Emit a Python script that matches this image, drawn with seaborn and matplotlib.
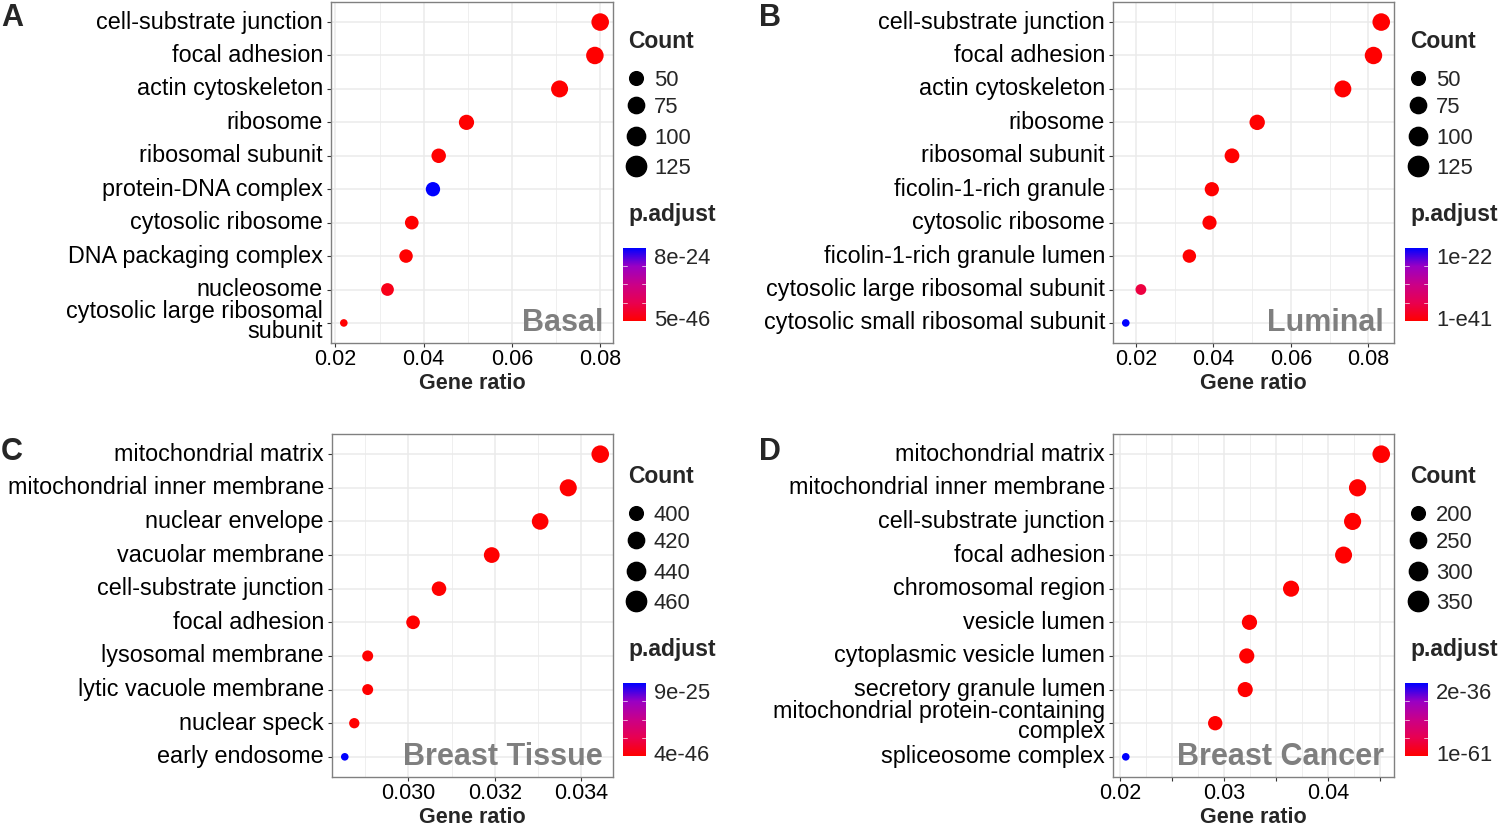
import numpy as np
import pandas as pd
import seaborn as sns
import matplotlib.pyplot as plt
from matplotlib.colors import LinearSegmentedColormap, Normalize, PowerNorm
from matplotlib.cm import ScalarMappable
from matplotlib.lines import Line2D
from matplotlib.transforms import ScaledTranslation

# ---- data ----
terms_a = ["cell-substrate junction", "focal adhesion", "actin cytoskeleton", "ribosome",
           "ribosomal subunit", "protein-DNA complex", "cytosolic ribosome",
           "DNA packaging complex", "nucleosome", "cytosolic large ribosomal\nsubunit"]
ratio_a = [0.0800, 0.0788, 0.0708, 0.0497, 0.0434, 0.0421, 0.0373, 0.0360, 0.0318, 0.0219]
count_a = [135, 133, 120, 84, 73, 71, 63, 61, 54, 37]
padj_a = [5e-46, 2e-45, 1e-40, 3e-38, 1e-33, 8e-24, 4e-33, 3e-30, 6e-25, 2e-27]

terms_b = ["cell-substrate junction", "focal adhesion", "actin cytoskeleton", "ribosome",
           "ribosomal subunit", "ficolin-1-rich granule", "cytosolic ribosome",
           "ficolin-1-rich granule lumen", "cytosolic large ribosomal subunit",
           "cytosolic small ribosomal subunit"]
ratio_b = [0.0833, 0.0813, 0.0734, 0.0513, 0.0448, 0.0396, 0.0390, 0.0338, 0.0213, 0.0174]
count_b = [137, 133, 120, 84, 73, 65, 64, 55, 35, 29]
padj_b = [1e-41, 3e-41, 2e-37, 5e-35, 1e-31, 4e-30, 2e-29, 6e-28, 2e-23, 1e-22]

terms_c = ["mitochondrial matrix", "mitochondrial inner membrane", "nuclear envelope",
           "vacuolar membrane", "cell-substrate junction", "focal adhesion",
           "lysosomal membrane", "lytic vacuole membrane", "nuclear speck", "early endosome"]
ratio_c = [0.03444, 0.03370, 0.03305, 0.03193, 0.03071, 0.03011, 0.02906, 0.02906, 0.02875, 0.02853]
count_c = [465, 455, 446, 431, 415, 406, 390, 390, 388, 385]
padj_c = [4e-46, 1e-44, 3e-43, 2e-40, 5e-37, 1e-35, 2e-33, 4e-33, 6e-30, 9e-25]

terms_d = ["mitochondrial matrix", "mitochondrial inner membrane", "cell-substrate junction",
           "focal adhesion", "chromosomal region", "vesicle lumen", "cytoplasmic vesicle lumen",
           "secretory granule lumen", "mitochondrial protein-containing\ncomplex",
           "spliceosome complex"]
ratio_d = [0.04513, 0.04285, 0.04237, 0.04150, 0.03644, 0.03243, 0.03217, 0.03202, 0.02913, 0.02051]
count_d = [361, 343, 339, 332, 292, 259, 257, 256, 233, 164]
padj_d = [1e-61, 4e-58, 1e-57, 3e-56, 2e-50, 5e-48, 1e-47, 3e-47, 6e-44, 2e-36]

# axis ticks / legend text
ticks_a = [0.02, 0.04, 0.06, 0.08]
tick_labels_a = ["0.02", "0.04", "0.06", "0.08"]
minor_a = [0.03, 0.05, 0.07]
ticks_c = [0.030, 0.032, 0.034]
tick_labels_c = ["0.030", "0.032", "0.034"]
minor_c = [0.029, 0.031, 0.033]
ticks_d = [0.02, 0.025, 0.03, 0.035, 0.04, 0.045]
tick_labels_d = ["0.02", "", "0.03", "", "0.04", ""]
minor_d = [0.0225, 0.0275, 0.0325, 0.0375, 0.0425]

breaks_a = [50, 75, 100, 125]
breaks_c = [400, 420, 440, 460]
breaks_d = [200, 250, 300, 350]
plabels_a = ["8e-24", "5e-46"]
plabels_b = ["1e-22", "1-e41"]
plabels_c = ["9e-25", "4e-46"]
plabels_d = ["2e-36", "1e-61"]

sns.set_style("white")
plt.rcParams['font.family'] = ['Liberation Sans', 'DejaVu Sans']

W, H = 1500, 826
fig = plt.figure(figsize=(W / 100, H / 100), dpi=100)
fig.patch.set_facecolor("white")


def rect(l, t, r, b):
    return [l / W, 1 - b / H, (r - l) / W, (b - t) / H]


# red -> blue interpolated through Lab like ggplot
cmap = LinearSegmentedColormap.from_list(
    "padj", ["#FF0000", "#E80050", "#CA0088", "#9A00C3", "#0000FF"])

key_diam = [13.7, 16.3, 18.3, 20.3]   # px
key_y = [78, 105, 136, 166]

panels = [
    dict(letter="A", lpos=(12, 18), name="Basal", terms=terms_a, ratio=ratio_a, count=count_a,
         padj=padj_a, ticks=ticks_a, tlabels=tick_labels_a, minor=minor_a, breaks=breaks_a,
         plab=plabels_a, box=(331, 2, 613, 343), cx=636, y0=0),
    dict(letter="B", lpos=(770, 18), name="Luminal", terms=terms_b, ratio=ratio_b, count=count_b,
         padj=padj_b, ticks=ticks_a, tlabels=tick_labels_a, minor=minor_a, breaks=breaks_a,
         plab=plabels_b, box=(1113, 2, 1394, 343), cx=1418, y0=0),
    dict(letter="C", lpos=(12, 452), name="Breast Tissue", terms=terms_c, ratio=ratio_c,
         count=count_c, padj=padj_c, ticks=ticks_c, tlabels=tick_labels_c, minor=minor_c,
         breaks=breaks_c, plab=plabels_c, box=(332, 434, 613, 777), cx=636, y0=435),
    dict(letter="D", lpos=(770, 452), name="Breast Cancer", terms=terms_d, ratio=ratio_d,
         count=count_d, padj=padj_d, ticks=ticks_d, tlabels=tick_labels_d, minor=minor_d,
         breaks=breaks_d, plab=plabels_d, box=(1113, 434, 1394, 777), cx=1418, y0=435),
]

shift_up = ScaledTranslation(0, 2.5 / 100, fig.dpi_scale_trans)

for p in panels:
    ax = fig.add_axes(rect(*p["box"]))
    df = pd.DataFrame({"term": p["terms"], "ratio": p["ratio"],
                       "Count": p["count"], "padj": p["padj"]})
    pnorm = Normalize(min(p["padj"]), max(p["padj"]))
    sns.scatterplot(data=df, x="ratio", y="term", hue="padj", palette=cmap, hue_norm=pnorm,
                    size="Count", sizes=(30, 160),
                    size_norm=PowerNorm(0.5, vmin=min(p["count"]), vmax=max(p["count"])),
                    linewidth=0, legend=False, ax=ax, zorder=3)
    lo, hi = min(p["ratio"]), max(p["ratio"])
    pad = 0.05 * (hi - lo)
    ax.set_xlim(lo - pad, hi + pad)
    ax.set_ylim(len(p["terms"]) - 0.4, -0.6)
    ax.set_xticks(p["ticks"])
    ax.set_xticklabels(p["tlabels"])
    ax.set_xticks(p["minor"], minor=True)
    ax.grid(which="major", color="#EBEBEB", lw=1.1)
    ax.grid(which="minor", axis="x", color="#EFEFEF", lw=0.7)
    ax.set_axisbelow(True)
    for s in ax.spines.values():
        s.set_color("#808080")
        s.set_linewidth(1.0)
    ax.tick_params(axis="both", which="major", direction="out", length=3, width=0.8,
                   color="#333333", labelcolor="black", bottom=True, left=True)
    ax.tick_params(axis="x", which="major", labelsize=15.5, pad=1)
    ax.tick_params(axis="y", which="major", labelsize=16.8, pad=2.8)
    ax.tick_params(which="minor", length=0)
    for lbl in ax.get_yticklabels():
        lbl.set_linespacing(0.85)
        lbl.set_transform(lbl.get_transform() + shift_up)
    ax.set_ylabel("")
    ax.set_xlabel("Gene ratio", fontsize=15.5, fontweight="bold", labelpad=2.5)
    ax.text(1 - 10 / 282, 12 / 341, p["name"], transform=ax.transAxes, ha="right",
            va="baseline", fontsize=22, fontweight="bold", color="#7F7F7F")

    fig.text(p["lpos"][0] / W, 1 - p["lpos"][1] / H, p["letter"], fontsize=22,
             fontweight="bold", ha="center", va="center")

    # size legend
    cx, y0 = p["cx"], p["y0"]
    fig.text((cx - 8) / W, 1 - (y0 + 48) / H, "Count", fontsize=16.5, fontweight="bold",
             va="baseline")
    for b, d, yy in zip(p["breaks"], key_diam, key_y):
        fig.add_artist(Line2D([cx / W], [1 - (y0 + yy) / H], marker="o", markersize=d / 1.389,
                              color="black", linestyle="none", transform=fig.transFigure))
        fig.text((cx + 18) / W, 1 - (y0 + yy + 8) / H, str(b), fontsize=15.8, va="baseline")

    # colour bar
    fig.text((cx - 8) / W, 1 - (y0 + 221) / H, "p.adjust", fontsize=16.5, fontweight="bold",
             va="baseline")
    cax = fig.add_axes(rect(cx - 13, y0 + 248, cx + 10, y0 + 321))
    cb = fig.colorbar(ScalarMappable(norm=pnorm, cmap=cmap), cax=cax)
    cb.outline.set_visible(False)
    cb.set_ticks([])
    for f in (0.25, 0.5, 0.75):
        cax.plot([0, 0.18], [f, f], transform=cax.transAxes, color="white", lw=0.6, alpha=0.8)
        cax.plot([0.82, 1], [f, f], transform=cax.transAxes, color="white", lw=0.6, alpha=0.8)
    fig.text((cx + 18) / W, 1 - (y0 + 256 + 8) / H, p["plab"][0], fontsize=15.8, va="baseline")
    fig.text((cx + 18) / W, 1 - (y0 + 318 + 8) / H, p["plab"][1], fontsize=15.8, va="baseline")

fig.savefig("out.png", dpi=100, facecolor="white")
